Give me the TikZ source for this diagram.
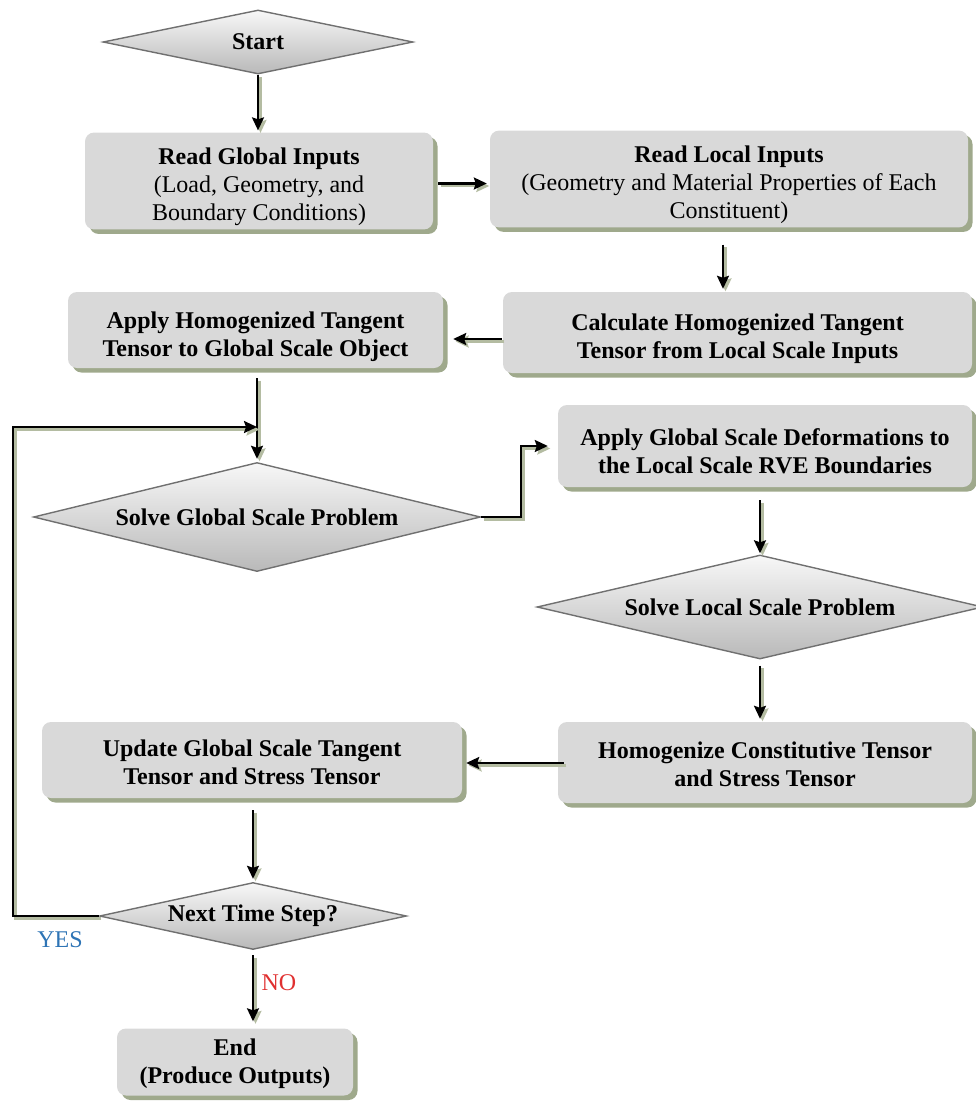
\documentclass[tikz,border=0pt]{standalone}
\usepackage{fontspec}
\setmainfont{Liberation Serif}
\usetikzlibrary{shapes.geometric,shadows,arrows.meta}
\definecolor{boxfill}{HTML}{D9D9D9}
\definecolor{boxshadow}{HTML}{9FA98C}
\definecolor{lineshadow}{HTML}{B4BCA2}
\definecolor{dborder}{HTML}{707070}
\definecolor{yesblue}{HTML}{2E74B5}
\definecolor{nored}{HTML}{E03030}
\newcommand{\tpad}[1]{\rule{0pt}{#1}}
\tikzset{
  txt/.style={font=\fontsize{24}{28}\selectfont},
  btxt/.style={font=\fontsize{24}{28}\selectfont\bfseries},
  box/.style={txt, rectangle, rounded corners=9pt, fill=boxfill, align=center,
    drop shadow={shadow xshift=4.5pt, shadow yshift=-4.5pt, fill=boxshadow, opacity=1}},
  dec/.style={diamond, inner sep=0pt, draw=dborder, line width=1.4pt,
    top color=gray!6, bottom color=gray!55, btxt},
  conn/.style={line width=2.2pt, -{Stealth[length=13pt,width=12pt,inset=2pt]},
    preaction={draw=lineshadow, line width=2.2pt, transform canvas={shift={(2.5pt,-2.5pt)}}}}
}
\begin{document}
\begin{tikzpicture}[x=1pt,y=-1pt]
\useasboundingbox (0,0) rectangle (976,1109);
% decisions
\node[dec, aspect=4.84, minimum width=310pt, minimum height=64pt] (start) at (258,42) {Start};
\node[dec, aspect=4.1, minimum width=447pt, minimum height=109pt] (sgp) at (257,517) {Solve Global Scale Problem};
\node[dec, aspect=4.3, minimum width=446pt, minimum height=104pt] (slp) at (760,607) {Solve Local Scale Problem};
\node[dec, aspect=4.6, minimum width=307pt, minimum height=67pt] (nts) at (253,916) {Next Time Step?};
% boxes
\node[box, minimum width=348pt, minimum height=88pt] (rgi) at (259,181)
  {\tpad{29pt}\textbf{Read Global Inputs}\\(Load, Geometry, and\\Boundary Conditions)};
\node[box, minimum width=478pt, minimum height=84pt] (rli) at (729,179)
  {\tpad{29pt}\textbf{Read Local Inputs}\\(Geometry and Material Properties of Each\\Constituent)};
\node[box, btxt, minimum width=469pt, minimum height=81pt] (calc) at (737.5,332.5)
  {\tpad{29pt}Calculate Homogenized Tangent\\Tensor from Local Scale Inputs};
\node[box, btxt, minimum width=375pt, minimum height=76pt] (apply) at (255.5,330)
  {\tpad{30pt}Apply Homogenized Tangent\\Tensor to Global Scale Object};
\node[box, btxt, minimum width=414pt, minimum height=82pt] (agsd) at (765,446)
  {\tpad{27pt}Apply Global Scale Deformations to\\the Local Scale RVE Boundaries};
\node[box, btxt, minimum width=414pt, minimum height=81pt] (hom) at (765,762.5)
  {\tpad{21pt}Homogenize Constitutive Tensor\\and Stress Tensor};
\node[box, btxt, minimum width=420pt, minimum height=76pt] (upd) at (252,760)
  {\tpad{21pt}Update Global Scale Tangent\\Tensor and Stress Tensor};
\node[box, btxt, minimum width=236pt, minimum height=67pt] (end) at (235,1062)
  {\tpad{21pt}End\\(Produce Outputs)};
% labels
\node[txt, text=yesblue] (yes) at (60,940) {YES};
\node[txt, text=nored] (no) at (279,983) {NO};
% helper coordinates
\coordinate (loopc) at (13,427);
\coordinate (join) at (258,427);
\coordinate (b1) at (521,517);
% connectors
\draw[conn, shorten >=2pt] (start.south) -- (start.south |- rgi.north);
\draw[conn, shorten <=5pt, shorten >=3pt] ([yshift=-2.5pt]rgi.east) -- ([yshift=-2.5pt]rgi.east -| rli.west);
\draw[conn, shorten <=17pt, shorten >=3pt] ([xshift=-6pt]rli.south) -- ([xshift=-6pt]rli.south |- calc.north);
\draw[conn, shorten <=1pt, shorten >=10pt] ([yshift=-6.5pt]calc.west) -- ([yshift=-6.5pt]calc.west -| apply.east);
\draw[conn, shorten <=10pt, shorten >=3pt] (sgp.north |- apply.south) -- (sgp.north);
\draw[conn, shorten >=1pt] (nts.west) -| (loopc) -- (join);
\draw[conn, shorten >=10pt] (sgp.east) -- (b1) |- (agsd.west);
\draw[conn, shorten <=13pt, shorten >=1pt] (slp.north |- agsd.south) -- (slp.north);
\draw[conn, shorten <=6pt, shorten >=3pt] (slp.south) -- (slp.south |- hom.north);
\draw[conn, shorten <=-6pt, shorten >=4pt] ([yshift=-0.5pt]hom.west) -- ([yshift=-0.5pt]hom.west -| upd.east);
\draw[conn, shorten <=12pt, shorten >=3pt] (nts.north |- upd.south) -- (nts.north);
\draw[conn, shorten <=5pt, shorten >=7pt] (nts.south) -- (nts.south |- end.north);
\end{tikzpicture}
\end{document}
